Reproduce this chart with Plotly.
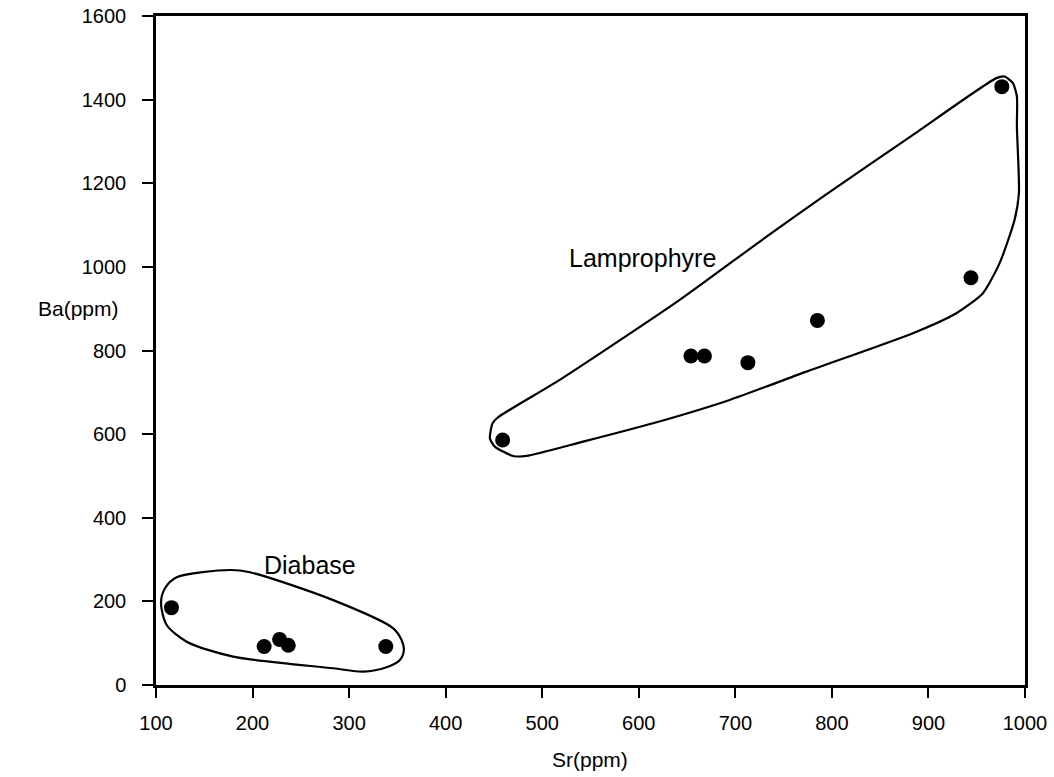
import plotly.graph_objects as go

# Sample data
diabase_sr = [116, 212, 228, 237, 338]
diabase_ba = [185, 92, 109, 95, 92]
lamp_sr = [459, 654, 668, 713, 785, 944, 976]
lamp_ba = [586, 787, 787, 771, 872, 974, 1431]

# Field outlines (data units)
diabase_field_sr = [283.5, 345.7, 354.3, 356.7, 352.6, 338.8, 314.6, 283.5, 180, 131.8,
                    111.1, 105.2, 109.3, 121.4, 176.6, 197.3, 283.5]
diabase_field_ba = [203, 135.6, 107.7, 83.7, 59.8, 42.3, 31.8, 40, 67.7, 103.6,
                    143.5, 195.5, 231.3, 257.7, 275, 269.6, 203]
lamp_field_sr = [642.4, 725.3, 790.8, 884, 970.3, 978.9, 987.5, 991.6, 991.6, 993.7, 989.2,
                 973.7, 956.4, 928.9, 883.9, 773.6, 694.2, 614.8, 542.3, 483.7, 469.9,
                 450.9, 445.8, 448.6, 454.3, 518.2, 642.4]
lamp_field_ba = [921, 1060.5, 1168.2, 1315.8, 1451.4, 1455.3, 1439.5, 1407.4, 1335.6, 1176.3, 1112.4,
                 1008.9, 937.1, 889.2, 841.4, 749.5, 681.8, 626, 582, 547.8, 547.8,
                 570.1, 590.2, 626, 640.4, 729.7, 921]

x_ticks = [100, 200, 300, 400, 500, 600, 700, 800, 900, 1000]
y_ticks = [0, 200, 400, 600, 800, 1000, 1200, 1400, 1600]

FONT = "Liberation Sans, Arial, sans-serif"

W, H = 1054, 777
PL, PR, PT, PB = 156, 1025, 16, 685  # plot area in page pixels
L, T, R, B = PL, PT, W - PR, H - PB
pw, ph = PR - PL, PB - PT


def paper_x(sx):
    return (sx - PL) / pw


def paper_y(sy):
    return (PB - sy) / ph


fig = go.Figure()
fig.add_trace(go.Scatter(x=diabase_field_sr, y=diabase_field_ba, mode="lines",
                         line=dict(color="black", width=2.2, shape="spline", smoothing=0.8),
                         hoverinfo="skip", showlegend=False))
fig.add_trace(go.Scatter(x=lamp_field_sr, y=lamp_field_ba, mode="lines",
                         line=dict(color="black", width=2.2, shape="spline", smoothing=0.6),
                         hoverinfo="skip", showlegend=False))
fig.add_trace(go.Scatter(x=diabase_sr, y=diabase_ba, mode="markers",
                         marker=dict(color="black", size=15), name="Diabase", showlegend=False))
fig.add_trace(go.Scatter(x=lamp_sr, y=lamp_ba, mode="markers",
                         marker=dict(color="black", size=15), name="Lamprophyre", showlegend=False))

fig.add_annotation(x=260, y=287, text="Diabase", showarrow=False, xref="x", yref="y",
                   font=dict(family=FONT, size=25, color="black"))
fig.add_annotation(x=604, y=1021, text="Lamprophyre", showarrow=False, xref="x", yref="y",
                   font=dict(family=FONT, size=25, color="black"))
fig.add_annotation(x=paper_x(78), y=paper_y(308), text="Ba(ppm)", showarrow=False,
                   xref="paper", yref="paper", xanchor="center", yanchor="middle",
                   font=dict(family=FONT, size=21, color="black"))
fig.add_annotation(x=paper_x(590), y=paper_y(759), text="Sr(ppm)", showarrow=False,
                   xref="paper", yref="paper", xanchor="center", yanchor="middle",
                   font=dict(family=FONT, size=21, color="black"))

fig.update_layout(
    width=W, height=H,
    margin=dict(l=L, r=R, t=T, b=B, autoexpand=False),
    plot_bgcolor="white", paper_bgcolor="white",
    font=dict(family=FONT, size=20, color="black"),
    xaxis=dict(range=[100, 1000], tickvals=x_ticks, ticks="outside", ticklen=10, tickwidth=2,
               tickcolor="black", showline=True, linecolor="black", linewidth=2.5, mirror=True,
               showgrid=False, zeroline=False, ticklabelstandoff=8, ticklabeloverflow="allow"),
    yaxis=dict(range=[0, 1600], tickvals=y_ticks, ticks="outside", ticklen=11, tickwidth=2,
               tickcolor="black", showline=True, linecolor="black", linewidth=2.5, mirror=True,
               showgrid=False, zeroline=False, ticklabelstandoff=12, ticklabeloverflow="allow"),
)

fig.write_html("out.html",
               config={"displayModeBar": False},
               post_script="document.body.style.margin='0';document.body.style.overflow='hidden';")
